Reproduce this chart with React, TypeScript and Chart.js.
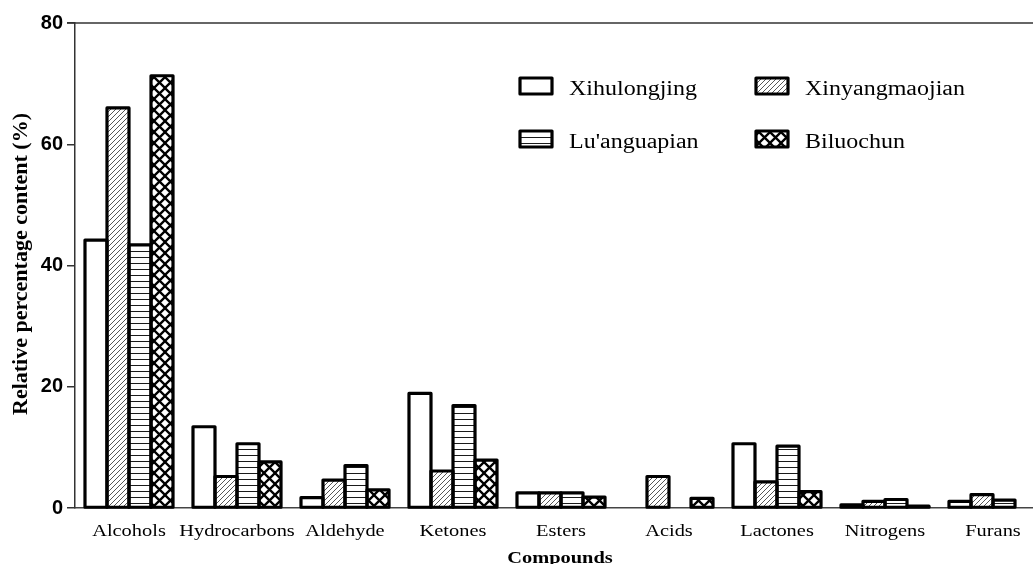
import { useEffect, useRef } from "react";
import { Chart, registerables } from "chart.js";

Chart.register(...registerables);

// Categories of volatile compounds and their relative content (%) per tea
const categories = [
  "Alcohols",
  "Hydrocarbons",
  "Aldehyde",
  "Ketones",
  "Esters",
  "Acids",
  "Lactones",
  "Nitrogens",
  "Furans",
];
const xihulongjing = [44.2, 13.4, 1.7, 18.9, 2.5, 0, 10.6, 0.5, 1.1];
const xinyangmaojian = [66.0, 5.2, 4.6, 6.1, 2.5, 5.2, 4.3, 1.1, 2.2];
const luanguapian = [43.4, 10.6, 7.0, 16.9, 2.5, 0, 10.2, 1.4, 1.3];
const biluochun = [71.3, 7.6, 3.0, 7.9, 1.8, 1.6, 2.7, 0.3, 0];
const seriesNames = ["Xihulongjing", "Xinyangmaojian", "Lu'anguapian", "Biluochun"];
const yTicks = [0, 20, 40, 60, 80];

const yTitle = "Relative percentage content (%)";
const xTitle = "Compounds";

const SERIF = '"Liberation Serif", "Times New Roman", serif';
const SANS = '"Liberation Sans", Arial, sans-serif';
const TEXT_SX = 1.2; // horizontal widening of serif text

type Fill = string | CanvasPattern;

function makePatterns(): Fill[] {
  const tile = (w: number, h: number, draw: (c: CanvasRenderingContext2D) => void) => {
    const cv = document.createElement("canvas");
    cv.width = w;
    cv.height = h;
    const c = cv.getContext("2d")!;
    c.fillStyle = "#fff";
    c.fillRect(0, 0, w, h);
    draw(c);
    return c.createPattern(cv, "repeat")!;
  };
  const diag = tile(5, 5, (c) => {
    c.strokeStyle = "#444";
    c.lineWidth = 0.9;
    for (const d of [-5, 0, 5]) {
      c.beginPath();
      c.moveTo(d, 5);
      c.lineTo(d + 5, 0);
      c.stroke();
    }
  });
  const horiz = tile(6, 6, (c) => {
    c.fillStyle = "#1a1a1a";
    c.fillRect(0, 5, 6, 1);
  });
  const cross = tile(11, 11, (c) => {
    c.strokeStyle = "#000";
    c.lineWidth = 2.3;
    for (const d of [-11, 0, 11]) {
      c.beginPath();
      c.moveTo(d, 0);
      c.lineTo(d + 11, 11);
      c.moveTo(d, 11);
      c.lineTo(d + 11, 0);
      c.stroke();
    }
  });
  return ["#ffffff", diag, horiz, cross];
}

function stretchedText(
  ctx: CanvasRenderingContext2D,
  text: string,
  x: number,
  y: number,
  align: "left" | "center",
) {
  ctx.save();
  ctx.translate(x, y);
  ctx.scale(TEXT_SX, 1);
  ctx.textAlign = align;
  ctx.textBaseline = "alphabetic";
  ctx.fillText(text, 0, 0);
  ctx.restore();
}

export default function App() {
  const ref = useRef<HTMLCanvasElement | null>(null);

  useEffect(() => {
    document.body.style.margin = "0";
    document.body.style.overflow = "hidden";
    const canvas = ref.current!;
    const fills = makePatterns();
    const seriesData = [xihulongjing, xinyangmaojian, luanguapian, biluochun];

    const decorations = {
      id: "decorations",
      afterDatasetsDraw(chart: any) {
        const ctx: CanvasRenderingContext2D = chart.ctx;
        ctx.save();
        ctx.strokeStyle = "#000";
        ctx.lineWidth = 3.2;
        ctx.lineJoin = "round";
        chart.data.datasets.forEach((ds: any, di: number) => {
          const meta = chart.getDatasetMeta(di);
          meta.data.forEach((el: any, i: number) => {
            if (!ds.data[i]) return;
            const p = el.getProps(["x", "y", "base", "width"], true);
            ctx.strokeRect(p.x - p.width / 2, p.y, p.width, p.base - p.y);
          });
        });
        ctx.restore();
      },
      afterDraw(chart: any) {
        const ctx: CanvasRenderingContext2D = chart.ctx;
        const area = chart.chartArea;
        const xScale = chart.scales.x;
        ctx.save();
        // top frame line
        ctx.strokeStyle = "#333";
        ctx.lineWidth = 1.5;
        ctx.beginPath();
        ctx.moveTo(area.left - 8, area.top);
        ctx.lineTo(chart.width, area.top);
        ctx.stroke();

        // category labels
        ctx.fillStyle = "#000";
        ctx.font = `17px ${SERIF}`;
        categories.forEach((c, i) => {
          stretchedText(ctx, c, xScale.getPixelForValue(i), area.bottom + 28, "center");
        });
        ctx.font = `bold 17px ${SERIF}`;
        stretchedText(ctx, xTitle, 560, area.bottom + 55, "center");

        // y-axis title
        ctx.save();
        ctx.translate(21, 264);
        ctx.rotate(-Math.PI / 2);
        ctx.font = `bold 22px ${SERIF}`;
        ctx.textAlign = "center";
        ctx.textBaseline = "middle";
        ctx.fillText(yTitle, 0, 0);
        ctx.restore();

        // legend
        const boxes = [
          { x: 520, y: 78 },
          { x: 756, y: 78 },
          { x: 520, y: 131 },
          { x: 756, y: 131 },
        ];
        seriesNames.forEach((name, i) => {
          const b = boxes[i];
          ctx.fillStyle = fills[i] as any;
          ctx.fillRect(b.x, b.y, 32, 16);
          ctx.strokeStyle = "#000";
          ctx.lineWidth = 3.2;
          ctx.lineJoin = "round";
          ctx.strokeRect(b.x, b.y, 32, 16);
          ctx.fillStyle = "#000";
          ctx.font = `20px ${SERIF}`;
          stretchedText(ctx, name, b.x + 49, b.y + 17, "left");
        });
        ctx.restore();
      },
    };

    const chart = new Chart(canvas, {
      type: "bar",
      data: {
        labels: categories,
        datasets: seriesData.map((d, i) => ({
          label: seriesNames[i],
          data: d,
          backgroundColor: fills[i] as any,
          borderWidth: 0,
          categoryPercentage: 0.815,
          barPercentage: 1.0,
        })),
      },
      options: {
        responsive: false,
        animation: false,
        devicePixelRatio: 1,
        layout: { padding: { top: 23, right: 13, left: 0, bottom: 0 } },
        plugins: {
          legend: { display: false },
          tooltip: { enabled: false },
          title: { display: false },
        },
        scales: {
          x: {
            type: "category",
            offset: true,
            grid: { display: false },
            border: { display: true, color: "#444", width: 1.5 },
            ticks: { display: false },
            afterFit(scale: any) {
              scale.height = 56;
            },
          },
          y: {
            min: 0,
            max: 80,
            grid: {
              display: true,
              drawOnChartArea: false,
              drawTicks: true,
              tickLength: 8,
              color: "#333",
              lineWidth: 1.5,
            },
            border: { display: true, color: "#333", width: 1.5 },
            ticks: {
              color: "#000",
              padding: 4,
              font: { family: SANS, size: 20, weight: "bold" },
            },
            afterBuildTicks(scale: any) {
              scale.ticks = yTicks.map((v) => ({ value: v }));
            },
            afterFit(scale: any) {
              scale.width = 75;
            },
          },
        },
      },
      plugins: [decorations],
    });
    return () => chart.destroy();
  }, []);

  return (
    <div style={{ width: 1033, height: 564, overflow: "hidden", position: "relative", background: "#fff" }}>
      <canvas ref={ref} width={1060} height={564} style={{ position: "absolute", left: 0, top: 0 }} />
    </div>
  );
}
